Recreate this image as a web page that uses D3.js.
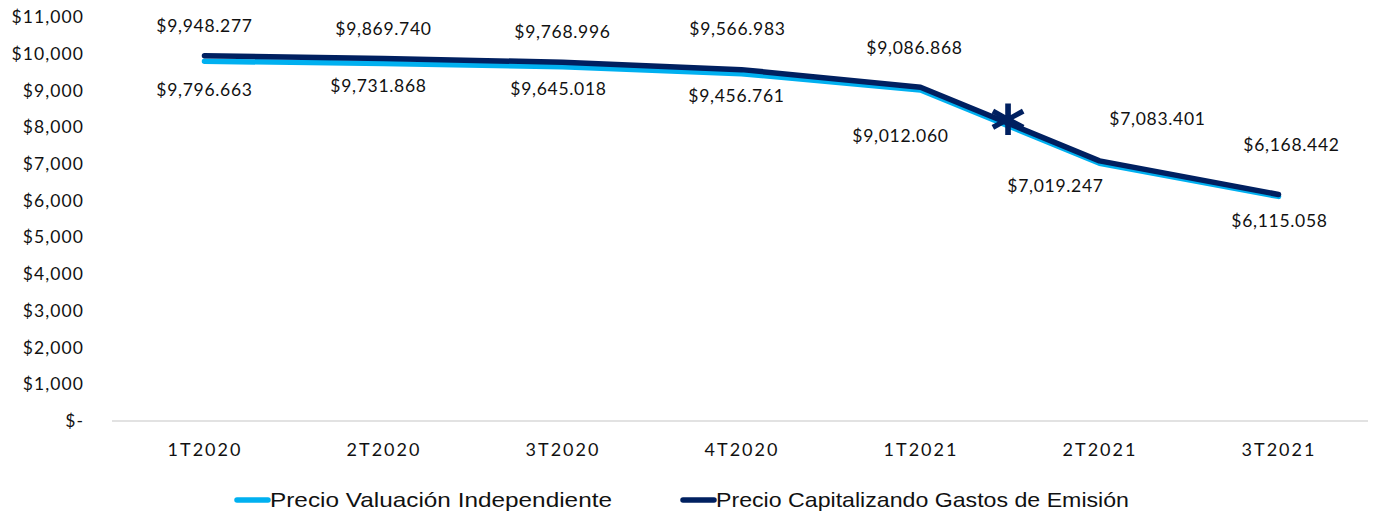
<!DOCTYPE html>
<html>
<head>
<meta charset="utf-8">
<script src="https://cdn.jsdelivr.net/npm/d3@7"></script>
<style>
  body { margin: 0; background: #fff; }
  text { font-family: Lato, "Open Sans", sans-serif; fill: #111; }
  .legend text { font-family: "Liberation Sans", Arial, sans-serif; }
</style>
</head>
<body>
<div id="container"></div>
<script>
const categories = ['1T2020', '2T2020', '3T2020', '4T2020', '1T2021', '2T2021', '3T2021'];
const valuacion = [9796.663, 9731.868, 9645.018, 9456.761, 9012.060, 7019.247, 6115.058];
const capitalizando = [9948.277, 9869.740, 9768.996, 9566.983, 9086.868, 7083.401, 6168.442];
const yTicks = [0, 1000, 2000, 3000, 4000, 5000, 6000, 7000, 8000, 9000, 10000, 11000];
const seriesNames = ['Precio Valuación Independiente', 'Precio Capitalizando Gastos de Emisión'];

// label nudges, hand placed like the original
const lightOffsets = [[0, 29], [-5, 22], [-4, 22], [-5, 22], [-20, 46], [-44, 23], [1, 24]];
const darkOffsets = [[0, -30], [0, -30], [0, -30], [-4, -41], [-6, -39], [58, -42], [13, -50]];

const specs = { width: 1382, height: 514, margin: { left: 115, right: 14, top: 17, bottom: 93 } };
const colors = ['#00B0F0', '#002060'];

const svg = d3.select('#container')
    .append('svg').attr('width', specs.width).attr('height', specs.height);

const xScale = d3.scalePoint()
    .domain(categories)
    .range([specs.margin.left, specs.width - specs.margin.right])
    .padding(0.5);
const yScale = d3.scaleLinear()
    .domain([0, 11000])
    .range([specs.height - specs.margin.bottom, specs.margin.top]);

const fmtMoney = v => v === 0 ? '$-' : '$' + d3.format(',')(v);

// y axis labels (no line, no ticks)
const yAxis = svg.append('g')
    .attr('transform', `translate(${specs.margin.left},0)`)
    .call(d3.axisLeft(yScale).tickValues(yTicks).tickFormat(fmtMoney).tickSize(0).tickPadding(31));
yAxis.select('.domain').remove();
yAxis.selectAll('text').attr('font-size', 17.5).attr('letter-spacing', 1.1)
    .style('font-family', 'Lato, sans-serif').attr('fill', '#111');

// baseline
svg.append('line')
    .attr('x1', 112).attr('x2', specs.width - specs.margin.right)
    .attr('y1', yScale(0)).attr('y2', yScale(0))
    .attr('stroke', '#d9d9d9').attr('stroke-width', 1.5);

// x axis labels
const xAxis = svg.append('g')
    .attr('transform', `translate(0,${yScale(0)})`)
    .call(d3.axisBottom(xScale).tickSize(0).tickPadding(22));
xAxis.select('.domain').remove();
xAxis.selectAll('text').attr('font-size', 18).attr('letter-spacing', 2)
    .style('font-family', 'Lato, sans-serif').attr('fill', '#111');

const line = d3.line()
    .x((d, i) => xScale(categories[i]))
    .y(d => yScale(d));

[valuacion, capitalizando].forEach((s, k) => {
    svg.append('path')
        .attr('d', line(s))
        .attr('fill', 'none')
        .attr('stroke', colors[k])
        .attr('stroke-width', 5.5)
        .attr('stroke-linecap', 'round')
        .attr('stroke-linejoin', 'round');
});

// data labels
const drawLabels = (s, offs) => {
    svg.append('g').selectAll('text')
        .data(s)
        .join('text')
        .attr('x', (d, i) => xScale(categories[i]) + offs[i][0])
        .attr('y', (d, i) => yScale(d) + offs[i][1])
        .attr('dy', '0.35em')
        .attr('text-anchor', 'middle')
        .attr('font-size', 17.5)
        .attr('letter-spacing', 0.7)
        .text(d => '$' + d3.format(',.3f')(d));
};
drawLabels(valuacion, lightOffsets);
drawLabels(capitalizando, darkOffsets);

// asterisk between 1T2021 and 2T2021
const midX = (xScale('1T2021') + xScale('2T2021')) / 2;
const midY = yScale((capitalizando[4] + capitalizando[5]) / 2);
svg.append('text')
    .attr('x', midX - 2).attr('y', midY + 30)
    .attr('text-anchor', 'middle')
    .attr('font-size', 68)
    .attr('font-weight', 'bold')
    .style('fill', colors[1])
    .style('font-family', 'DejaVu Sans, sans-serif')
    .text('*');

// legend
const legend = svg.append('g').attr('class', 'legend');
const legendX = [237, 683];
const legendLen = [342, 413];
seriesNames.forEach((name, k) => {
    legend.append('line')
        .attr('x1', legendX[k]).attr('x2', legendX[k] + 31)
        .attr('y1', 500).attr('y2', 500)
        .attr('stroke', colors[k]).attr('stroke-width', 5.5).attr('stroke-linecap', 'round');
    legend.append('text')
        .attr('x', legendX[k] + 33).attr('y', 500)
        .attr('dy', '0.35em')
        .attr('font-size', 21)
        .attr('textLength', legendLen[k])
        .attr('lengthAdjust', 'spacingAndGlyphs')
        .text(name);
});
</script>
</body>
</html>
